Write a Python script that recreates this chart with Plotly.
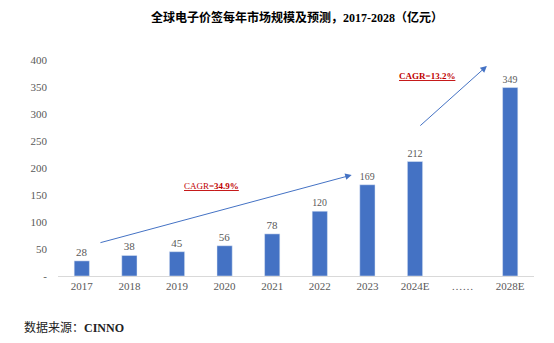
import plotly.graph_objects as go

# Global electronic shelf label market size (100 million CNY)
categories = ["2017", "2018", "2019", "2020", "2021", "2022", "2023", "2024E", "……", "2028E"]
market_size = [28, 38, 45, 56, 78, 120, 169, 212, None, 349]
y_tickvals = [0, 50, 100, 150, 200, 250, 300, 350, 400]
y_ticktext = ["-", "50", "100", "150", "200", "250", "300", "350", "400"]

BLUE = "#4472C4"
RED = "#C00000"
GREY = "#595959"
SERIF = "Liberation Serif, Times New Roman, serif"
MIXED = "Liberation Serif, Noto Sans CJK SC, serif"

fig = go.Figure()
fig.add_trace(go.Bar(
    x=list(range(len(categories))),
    y=market_size,
    marker_color=BLUE,
    text=[("" if v is None else str(v)) for v in market_size],
    textposition="outside",
    textfont=dict(family=SERIF, size=11, color=GREY),
    cliponaxis=False,
    hoverinfo="skip",
))

# growth arrows
arrows = [
    dict(x0=0.36, y0=61, x1=5.67, y1=187),
    dict(x0=7.08, y0=276, x1=8.51, y1=389),
]
for a in arrows:
    fig.add_annotation(
        x=a["x1"], y=a["y1"], ax=a["x0"], ay=a["y0"],
        xref="x", yref="y", axref="x", ayref="y",
        showarrow=True, arrowhead=2, arrowsize=1.3, arrowwidth=1,
        arrowcolor=BLUE, text="",
    )

# CAGR labels
fig.add_annotation(
    x=2.73, y=167, xref="x", yref="y", showarrow=False,
    text="<u>CAGR=<b>34.9%</b></u>",
    font=dict(family=SERIF, size=9, color=RED),
)
fig.add_annotation(
    x=7.25, y=370, xref="x", yref="y", showarrow=False,
    text="<u><b>CAGR=13.2%</b></u>",
    font=dict(family=SERIF, size=9, color=RED),
)

# title and source (paper coordinates are relative to the plot area: 476 x 216 px)
fig.add_annotation(
    x=0.5 + (297 - 296) / 476, y=1 + (60 - 17) / 216,
    xref="paper", yref="paper", showarrow=False,
    xanchor="center", yanchor="middle",
    text="<b>全球电子价签每年市场规模及预测，2017-2028（亿元）</b>",
    font=dict(family=MIXED, size=12, color="#000000"),
)
fig.add_annotation(
    x=(22 - 58) / 476, y=-(327 - 276) / 216,
    xref="paper", yref="paper", showarrow=False,
    xanchor="left", yanchor="middle",
    text="数据来源：<b>CINNO</b>",
    font=dict(family=MIXED, size=12, color="#222222"),
)

fig.update_layout(
    width=554, height=343,
    margin=dict(l=58, r=20, t=60, b=67),
    paper_bgcolor="white", plot_bgcolor="white",
    showlegend=False,
    bargap=0.68,
)
fig.update_xaxes(
    tickmode="array", tickvals=list(range(len(categories))), ticktext=categories,
    range=[-0.5, len(categories) - 0.5],
    showline=True, linecolor="#D9D9D9", linewidth=1,
    showgrid=False, ticks="",
    tickfont=dict(family=SERIF, size=11, color=GREY),
    zeroline=False,
)
fig.update_yaxes(
    range=[0, 400], tickvals=y_tickvals, ticktext=y_ticktext,
    showgrid=False, showline=False, zeroline=False, ticks="",
    tickfont=dict(family=SERIF, size=11, color=GREY),
    ticklabelstandoff=10,
)

fig.write_html("out.html")
